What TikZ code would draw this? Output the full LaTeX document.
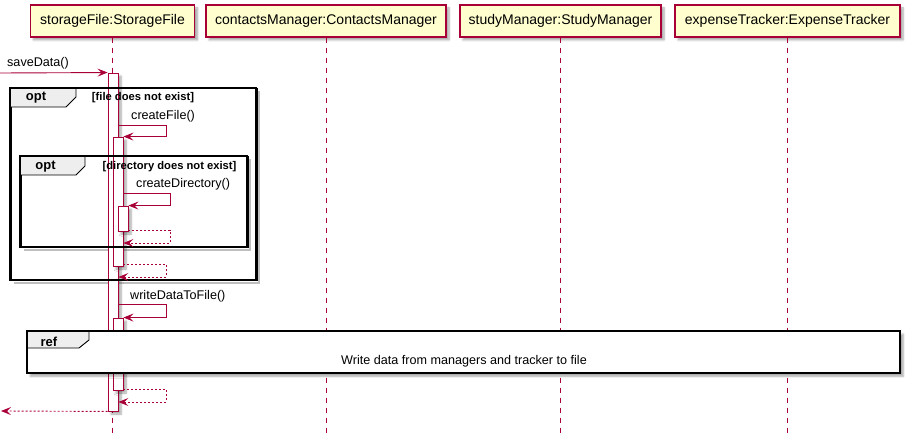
\documentclass[tikz,border=0pt]{standalone}
\usepackage{fontspec}
\setmainfont{Liberation Sans}
\usetikzlibrary{arrows.meta,shadows.blur}
\definecolor{pcrim}{HTML}{A80036}
\definecolor{pfill}{HTML}{FEFECE}
\definecolor{tabgray}{HTML}{EEEEEE}
\tikzset{
  shd/.style={blur shadow={shadow xshift=3pt, shadow yshift=-3pt, shadow blur steps=6, shadow blur radius=2pt, shadow opacity=35}},
  part/.style={draw=pcrim, fill=pfill, line width=1.1pt, minimum height=32pt, inner sep=0pt, shd, font=\fontsize{14}{16}\selectfont},
  life/.style={draw=pcrim, line width=0.8pt, dash pattern=on 5pt off 5pt},
  actbar/.style={draw=pcrim, fill=white, line width=0.9pt, minimum width=10pt, inner sep=0pt, shd},
  msg/.style={draw=pcrim, line width=0.9pt, -{Stealth[length=10pt, width=8pt, inset=4pt]}},
  ret/.style={msg, dash pattern=on 2pt off 2pt},
  mlabel/.style={anchor=west, inner sep=0pt, font=\fontsize{12.6}{14}\selectfont},
  frm/.style={draw=black, line width=1.5pt},
  frmshd/.style={draw=black!25, line width=2.5pt},
  tabtxt/.style={inner sep=0pt, font=\bfseries\fontsize{13}{15}\selectfont},
  cond/.style={inner sep=0pt, font=\bfseries\fontsize{11.2}{13}\selectfont},
}
\begin{document}
\begin{tikzpicture}[x=1pt, y=-1pt]
\useasboundingbox (0,0) rectangle (909,435);
% participants
\node[part, minimum width=164pt] (sf) at (112.5,21) {storageFile:StorageFile};
\node[part, minimum width=240pt] (cm) at (326,21) {contactsManager:ContactsManager};
\node[part, minimum width=201pt] (sm) at (560.5,21) {studyManager:StudyManager};
\node[part, minimum width=225pt] (et) at (787.5,21) {expenseTracker:ExpenseTracker};
% lifelines
\coordinate (sfe) at (113,435);
\coordinate (cme) at (326,435);
\coordinate (sme) at (560.5,435);
\coordinate (ete) at (787.5,435);
\draw[life] (sf.south) -- (sf.south |- sfe);
\draw[life] (cm.south) -- (cme);
\draw[life] (sm.south) -- (sme);
\draw[life] (et.south) -- (ete);
% outer opt frame
\draw[frmshd] (259,91.5) -- (259,283) -- (13.5,283);
\node[frm, minimum width=246pt, minimum height=192pt, inner sep=0pt, anchor=north west] (opt1) at (10,88) {};
\fill[tabgray] (10,88) -- (76,88) -- (76,97) -- (66,107) -- (10,107) -- cycle;
\draw[line width=0.9pt] (76,88) -- (76,97) -- (66,107) -- (10,107);
\node[tabtxt] (opt1t) at (36,98) {opt};
% inner opt frame
\draw[frmshd] (250,159.5) -- (250,250) -- (23.5,250);
\node[frm, minimum width=227pt, minimum height=91pt, inner sep=0pt, anchor=north west] (opt2) at (20,156) {};
\fill[tabgray] (20,156) -- (85,156) -- (85,166) -- (76,175) -- (20,175) -- cycle;
\draw[line width=0.9pt] (85,156) -- (85,166) -- (76,175) -- (20,175);
\node[tabtxt] (opt2t) at (45.5,167) {opt};
% activation bars
\node[actbar, minimum height=338pt] (b1) at (113,242) {};
\node[actbar, minimum height=129pt] (b2) at (118,201.5) {};
\node[actbar, minimum height=25pt] (b3) at (123,218.5) {};
\node[actbar, minimum height=72pt] (b4) at (118,354) {};
% redraw frame borders and conditions on top
\draw[line width=1.5pt] (10,88) rectangle (256,280);
\draw[line width=1.5pt] (20,156) rectangle (247,247);
\node[cond] (opt1c) at (143,98) {[file does not exist]};
\node[cond] (opt2c) at (169.5,167) {[directory does not exist]};
% messages
\coordinate (inL) at (0,73);
\draw[msg] (inL) -- (b1.north west);
\node[mlabel] (l1) at (7,63) {saveData()};
\draw[msg] (b1.east |- 0,125) -- (166,125) |- (b2.north east);
\node[mlabel] (l2) at (131,116) {createFile()};
\draw[msg] (b2.east |- 0,193) -- (170,193) |- (b3.north east);
\node[mlabel] (l3) at (136,184) {createDirectory()};
\draw[ret] (b3.east |- 0,230) -- (170,230) |- (b2.east |- 0,243);
\draw[ret] (b2.east |- 0,264) -- (166,264) |- (b1.east |- 0,277);
\draw[msg] (b1.east |- 0,304) -- (166,304) |- (b4.north east);
\node[mlabel] (l4) at (130,296) {writeDataToFile()};
% ref frame
\node[fill=white, minimum width=873pt, minimum height=42pt, inner sep=0pt, anchor=north west, shd] (ref) at (27,331) {};
\fill[tabgray] (27,331) -- (89,331) -- (89,340) -- (79,348) -- (27,348) -- cycle;
\draw[line width=0.9pt] (89,331) -- (89,340) -- (79,348) -- (27,348);
\draw[line width=1.5pt] (27,331) rectangle (900,373);
\node[tabtxt] (reft) at (49,342) {ref};
\node[inner sep=0pt, font=\fontsize{12.6}{14}\selectfont] (refx) at (464,361) {Write data from managers and tracker to file};
\draw[ret] (b4.east |- 0,389) -- (166,389) |- (b1.east |- 0,402);
\coordinate (outL) at (1,411);
\draw[ret] (b1.south west) -- (outL);
\end{tikzpicture}
\end{document}
